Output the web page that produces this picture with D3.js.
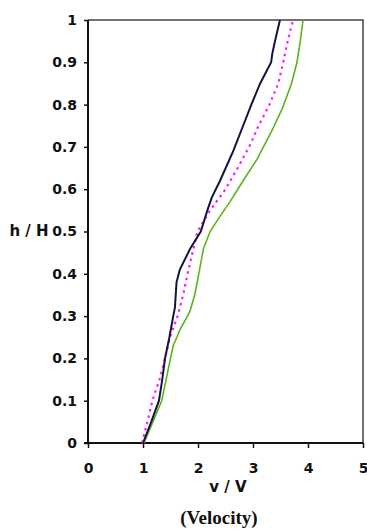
<!DOCTYPE html>
<html lang="en">
  <head>
    <meta charset="utf-8">
    <script src="https://d3js.org/d3.v7.min.js"></script>
    <style>
      body { margin:0; background:#fff; }
      svg text { font-family: "DejaVu Sans", Arial, sans-serif; font-weight:bold; fill:#111; }
    </style>
  </head>
  <body>
    <svg id="chart" width="367" height="530"></svg>
    <script>
      // h/H levels and velocity ratios
      var hNavy  = [0, 0.05, 0.1, 0.15, 0.2, 0.25, 0.3, 0.32, 0.38, 0.41, 0.46, 0.5, 0.55, 0.58, 0.62, 0.69, 0.75, 0.8, 0.85, 0.9, 0.92, 0.95, 1];
      var vNavy  = [1.0, 1.15, 1.29, 1.35, 1.40, 1.48, 1.55, 1.58, 1.61, 1.67, 1.86, 2.05, 2.17, 2.25, 2.4, 2.64, 2.82, 2.97, 3.13, 3.33, 3.35, 3.4, 3.49];

      var hPink  = [0, 0.05, 0.1, 0.15, 0.2, 0.25, 0.3, 0.35, 0.4, 0.45, 0.5, 0.55, 0.6, 0.65, 0.7, 0.75, 0.8, 0.85, 0.9, 0.95, 1];
      var vPink  = [0.98, 1.08, 1.17, 1.3, 1.4, 1.49, 1.63, 1.73, 1.81, 1.9, 1.99, 2.22, 2.5, 2.72, 2.93, 3.1, 3.3, 3.46, 3.55, 3.63, 3.73];

      var hGreen = [0, 0.05, 0.1, 0.15, 0.2, 0.23, 0.27, 0.31, 0.35, 0.39, 0.46, 0.5, 0.54, 0.57, 0.62, 0.67, 0.74, 0.79, 0.85, 0.9, 0.95, 1];
      var vGreen = [1.02, 1.18, 1.34, 1.42, 1.5, 1.55, 1.68, 1.85, 1.94, 2.0, 2.1, 2.22, 2.42, 2.58, 2.82, 3.07, 3.35, 3.53, 3.7, 3.8, 3.86, 3.91];

      var xTicks = [0, 1, 2, 3, 4, 5];
      var yTicks = [0, 0.1, 0.2, 0.3, 0.4, 0.5, 0.6, 0.7, 0.8, 0.9, 1];

      var svg = d3.select('#chart');
      var x = d3.scaleLinear().domain([0, 5]).range([88, 363]);
      var y = d3.scaleLinear().domain([0, 1]).range([443, 20]);

      // frame (top + right)
      svg.append('path')
        .attr('d', 'M' + x(0) + ',' + y(1) + 'H' + x(5) + 'V' + y(0))
        .attr('fill', 'none').attr('stroke', '#444').attr('stroke-width', 1.5);

      // x axis
      var xa = svg.append('g').attr('transform', 'translate(0,' + y(0) + ')')
        .call(d3.axisBottom(x).tickValues(xTicks).tickSize(5).tickPadding(15).tickFormat(d3.format('d')));
      xa.select('.domain').attr('d', 'M84,0H' + x(5)).attr('stroke', '#111').attr('stroke-width', 2);
      xa.selectAll('.tick line').attr('stroke', '#111').attr('stroke-width', 1.5);
      xa.selectAll('.tick text').style('font-size', '14px').attr('fill', '#111');

      // y axis
      var ya = svg.append('g').attr('transform', 'translate(' + x(0) + ',0)')
        .call(d3.axisLeft(y).tickValues(yTicks).tickSize(4).tickPadding(7)
          .tickFormat(function (d) { return d === 0 || d === 1 ? d3.format('d')(d) : d3.format('.1f')(d); }));
      ya.select('.domain').attr('d', 'M0,' + y(0) + 'V' + y(1)).attr('stroke', '#111').attr('stroke-width', 2);
      ya.selectAll('.tick line').attr('stroke', '#111').attr('stroke-width', 1.5);
      ya.selectAll('.tick text').style('font-size', '14px').attr('fill', '#111');

      // axis titles
      svg.append('text').attr('x', 29).attr('y', 236).attr('text-anchor', 'middle')
        .style('font-size', '15px').text('h / H');
      svg.append('text').attr('x', 228).attr('y', 492).attr('text-anchor', 'middle')
        .style('font-size', '15px').text('v / V');
      svg.append('text').attr('x', 219).attr('y', 524).attr('text-anchor', 'middle')
        .style('font-family', '"Liberation Serif", "Times New Roman", serif')
        .style('font-size', '19px').text('(Velocity)');

      var line = d3.line().x(function (d) { return x(d[0]); }).y(function (d) { return y(d[1]); });

      svg.append('path').datum(d3.zip(vGreen, hGreen)).attr('d', line)
        .attr('fill', 'none').attr('stroke', '#5cb31e').attr('stroke-width', 1.6);
      svg.append('path').datum(d3.zip(vPink, hPink)).attr('d', line)
        .attr('fill', 'none').attr('stroke', '#ff1aff').attr('stroke-width', 2.2)
        .attr('stroke-dasharray', '2.5,4');
      svg.append('path').datum(d3.zip(vNavy, hNavy)).attr('d', line)
        .attr('fill', 'none').attr('stroke', '#14143c').attr('stroke-width', 2);
    </script>
  </body>
</html>
